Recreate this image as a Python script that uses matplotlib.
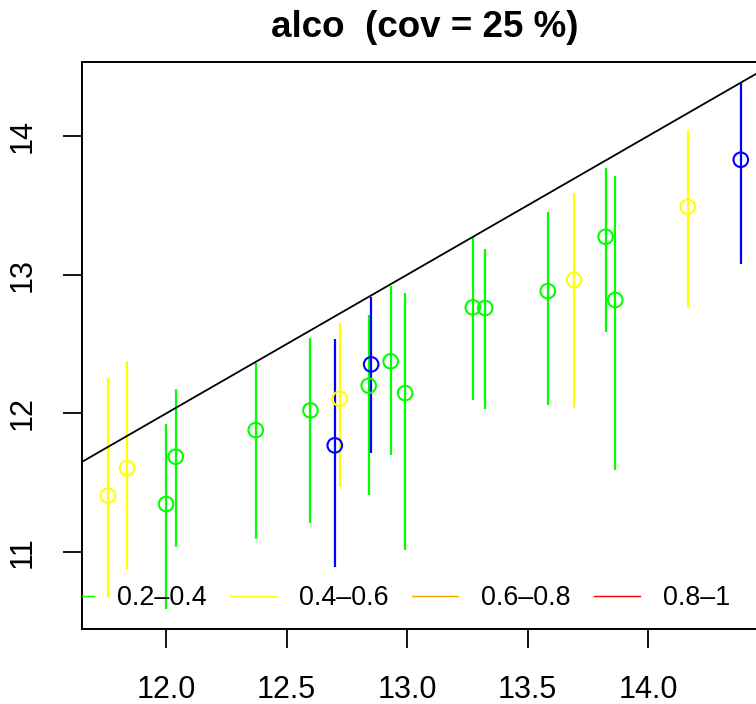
import numpy as np
import matplotlib
matplotlib.use("Agg")
import matplotlib.pyplot as plt
from matplotlib.lines import Line2D

plt.rcParams['font.family'] = ['Liberation Sans', 'DejaVu Sans']

# observed value, estimate and its interval, per sample
obs = [11.759, 11.838, 12.000, 12.040, 12.372, 12.599, 12.700, 12.721, 12.841, 12.851,
       12.932, 12.992, 13.273, 13.324, 13.584, 13.693, 13.824, 13.864, 14.165, 14.385]
est = [11.407, 11.606, 11.347, 11.688, 11.880, 12.022, 11.770, 12.106, 12.200, 12.354,
       12.376, 12.147, 12.765, 12.760, 12.882, 12.962, 13.274, 12.818, 13.490, 13.829]
lower = [10.676, 10.880, 10.590, 11.039, 11.094, 11.212, 10.890, 11.469, 11.412, 11.712,
         11.700, 11.015, 12.097, 12.034, 12.058, 12.039, 12.585, 11.594, 12.765, 13.077]
upper = [12.257, 12.378, 11.924, 12.174, 12.361, 12.541, 12.534, 12.654, 12.707, 12.841,
         12.919, 12.870, 13.274, 13.183, 13.450, 13.587, 13.767, 13.709, 14.043, 14.387]
group = ['0.4-0.6', '0.4-0.6', '0.2-0.4', '0.2-0.4', '0.2-0.4', '0.2-0.4', '0-0.2', '0.4-0.6',
         '0.2-0.4', '0-0.2', '0.2-0.4', '0.2-0.4', '0.2-0.4', '0.2-0.4', '0.2-0.4', '0.4-0.6',
         '0.2-0.4', '0.2-0.4', '0.4-0.6', '0-0.2']

group_colors = {'0-0.2': '#0000FF', '0.2-0.4': '#00FF00', '0.4-0.6': '#FFFF00',
                '0.6-0.8': '#FFA500', '0.8-1': '#FF0000'}
legend_groups = ['0.2-0.4', '0.4-0.6', '0.6-0.8', '0.8-1']
legend_labels = ['0.2\u20130.4', '0.4\u20130.6', '0.6\u20130.8', '0.8\u20131']

xticks = [12.0, 12.5, 13.0, 13.5, 14.0]
yticks = [11, 12, 13, 14]

W, H = 756, 704
fig = plt.figure(figsize=(W / 100, H / 100), dpi=100)
ax = fig.add_axes([82 / W, 1 - 629 / H, (768 - 82) / W, (629 - 62) / H])

cols = [group_colors[g] for g in group]
ax.vlines(obs, lower, upper, colors=cols, linewidth=1.6, zorder=2)
ax.scatter(obs, est, s=110, facecolors='none', edgecolors=cols, linewidths=1.5, zorder=3)

ax.set_xlim(11.651, 14.498)
ax.set_ylim(10.446, 14.534)
ax.axline((12, 12), slope=1, color='black', linewidth=1.3, zorder=4)

ax.set_xticks(xticks)
ax.set_xticklabels([f'{v:.1f}' for v in xticks])
ax.set_yticks(yticks)
ax.set_yticklabels([str(v) for v in yticks], rotation=90, va='center')
ax.tick_params(axis='both', direction='out', length=14, width=1.3, labelsize=22)
ax.tick_params(axis='x', pad=19)
ax.tick_params(axis='y', pad=18)
for sp in ax.spines.values():
    sp.set_linewidth(1.4)

ax.set_title('alco  (cov = 25 %)', fontsize=26.5, fontweight='bold', pad=18)

handles = [Line2D([0], [0], color=group_colors[g], linewidth=1.0) for g in legend_groups]
leg = ax.legend(handles, legend_labels, loc='center', bbox_to_anchor=(0.448, 0.0547),
                ncol=4, frameon=False, fontsize=19.4, handlelength=1.7,
                handletextpad=0.85, columnspacing=0.88, borderpad=0, borderaxespad=0)
for ln in leg.get_lines():
    ln.set_clip_on(True)
    ln.set_clip_box(ax.bbox)

fig.savefig('out.png', dpi=100)
